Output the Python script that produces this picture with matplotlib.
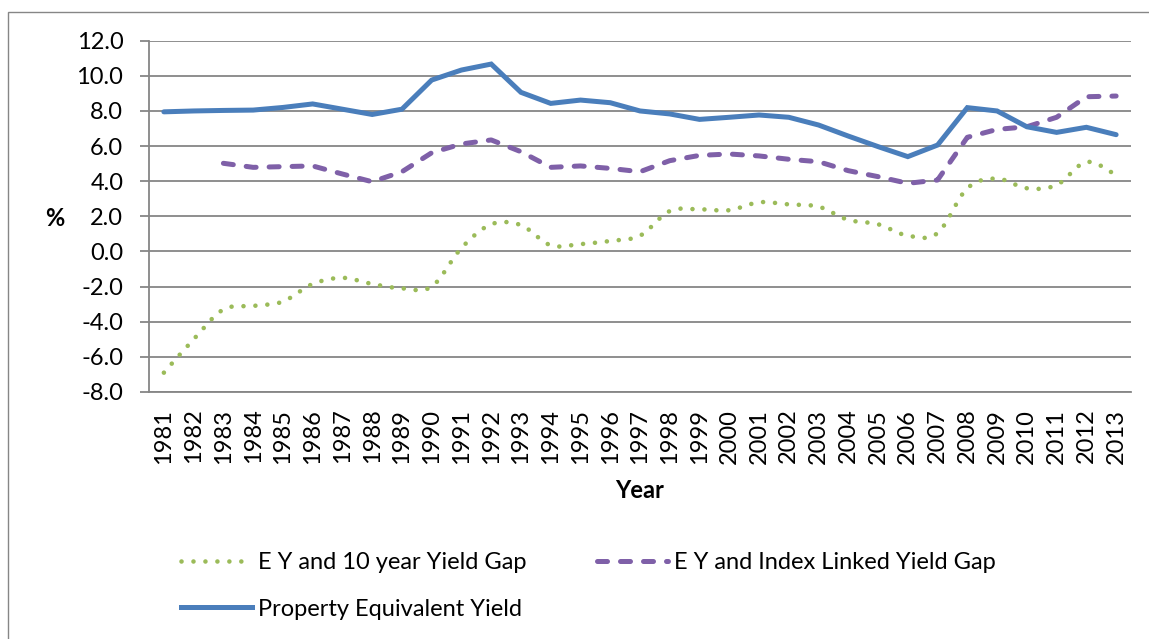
import numpy as np
import matplotlib
matplotlib.use("Agg")
import matplotlib.pyplot as plt
from matplotlib.path import Path
from matplotlib.patches import PathPatch, Rectangle
from matplotlib.lines import Line2D

plt.rcParams['font.family'] = ['Lato', 'DejaVu Sans']

years = list(range(1981, 2014))

# E Y and 10 year Yield Gap (1981-2013)
gap_10yr = [-6.9, -5.0, -3.3, -3.1, -2.85, -1.85, -1.5, -1.85, -2.1, -2.0,
            0.2, 1.55, 1.5, 0.35, 0.42, 0.6, 0.9, 2.3, 2.4, 2.35,
            2.8, 2.68, 2.55, 1.8, 1.55, 0.9, 1.05, 3.6, 4.15, 3.6,
            3.78, 5.1, 4.35]

# E Y and Index Linked Yield Gap (starts 1983)
gap_il_years = list(range(1983, 2014))
gap_il = [5.02, 4.79, 4.83, 4.87, 4.41, 3.97, 4.54, 5.62, 6.12, 6.35,
          5.68, 4.79, 4.87, 4.73, 4.54, 5.17, 5.47, 5.55, 5.44, 5.25,
          5.11, 4.6, 4.26, 3.88, 4.07, 6.5, 6.95, 7.1, 7.64, 8.81, 8.85]

# Property Equivalent Yield
prop_ey = [7.95, 8.0, 8.03, 8.05, 8.2, 8.4, 8.1, 7.8, 8.1, 9.76,
           10.33, 10.67, 9.06, 8.43, 8.62, 8.47, 8.0, 7.83, 7.52, 7.64,
           7.77, 7.64, 7.2, 6.57, 5.97, 5.4, 6.06, 8.19, 8.0, 7.1,
           6.78, 7.07, 6.65]

green = '#9BBB59'
purple = '#7F60A8'
blue = '#4A7EBB'
grey = '#868686'
fs = 17


def smooth_path(x, y):
    # Catmull-Rom style bezier through the points, like a smoothed office chart line
    pts = np.column_stack([x, y]).astype(float)
    n = len(pts)
    verts = [pts[0]]
    codes = [Path.MOVETO]
    for i in range(n - 1):
        p0 = pts[i - 1] if i > 0 else pts[i]
        p1 = pts[i]
        p2 = pts[i + 1]
        p3 = pts[i + 2] if i + 2 < n else pts[i + 1]
        c1 = p1 + (p2 - p0) / 6.0
        c2 = p2 - (p3 - p1) / 6.0
        verts += [c1, c2, p2]
        codes += [Path.CURVE4] * 3
    return Path(verts, codes)


fig = plt.figure(figsize=(11.49, 6.39), dpi=100)
ax = fig.add_axes([149 / 1149, 1 - 392 / 639, (1131 - 149) / 1149, (392 - 40.7) / 639])

xpos = np.arange(len(years))
il_pos = np.array([years.index(y) for y in gap_il_years])

patch = PathPatch(smooth_path(xpos, gap_10yr), fill=False, edgecolor=green,
                  linewidth=3.3, linestyle=(0, (0.01, 2.6)), capstyle='round', zorder=3)
ax.add_patch(patch)

ax.plot(il_pos, gap_il, color=purple, linewidth=3.6, linestyle=(0, (2, 2.6)),
        dash_capstyle='round', zorder=4)
ax.plot(xpos, prop_ey, color=blue, linewidth=3.6, solid_capstyle='round',
        solid_joinstyle='miter', zorder=5)

ax.set_xlim(-0.5, len(years) - 0.5)
ax.set_ylim(-8, 12)
ax.set_yticks(np.arange(-8, 12.1, 2))
ax.set_yticklabels(['%.1f' % v for v in np.arange(-8, 12.1, 2)])
ax.set_xticks(xpos)
ax.set_xticklabels([str(y) for y in years], rotation=90)

ax.grid(axis='y', color=grey, linewidth=1.3)
ax.set_axisbelow(True)
for s in ['top', 'right']:
    ax.spines[s].set_visible(False)
for s in ['left', 'bottom']:
    ax.spines[s].set_color(grey)
    ax.spines[s].set_linewidth(1.3)

ax.tick_params(axis='y', length=6.5, width=1.3, color=grey, pad=12, labelsize=fs)
ax.tick_params(axis='x', length=0, pad=12, labelsize=fs)

fig.text(55 / 1149, 1 - 218 / 639, '%', fontsize=fs, fontweight='bold',
         ha='center', va='center')
fig.text(640 / 1149, 1 - 490 / 639, 'Year', fontsize=fs, fontweight='bold',
         ha='center', va='center')

handles = [
    Line2D([], [], color=green, linewidth=3.3, linestyle=(0, (0.01, 2.6)),
           dash_capstyle='round'),
    Line2D([], [], color=blue, linewidth=3.6),
    Line2D([], [], color=purple, linewidth=3.6, linestyle=(0, (2, 2.6)),
           dash_capstyle='round'),
]
labels = ['E Y and 10 year Yield Gap', 'Property Equivalent Yield',
          'E Y and Index Linked Yield Gap']
fig.legend(handles, labels, loc='upper left', bbox_to_anchor=(160 / 1149, 1 - 531 / 639),
           ncol=2, frameon=False, fontsize=fs, handlelength=3.0, handletextpad=0.25,
           columnspacing=3.0, labelspacing=1.07)

fig.patches.append(Rectangle((7.5 / 1149, -0.1), 1.2, 1 - 12 / 639 + 0.1,
                             transform=fig.transFigure, fill=False,
                             edgecolor=grey, linewidth=1.0))

fig.savefig('out.png', dpi=100)
